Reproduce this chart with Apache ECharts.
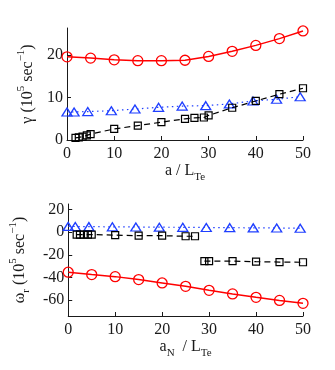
<!DOCTYPE html>
<html>
<head>
<meta charset="utf-8">
<script src="https://cdn.jsdelivr.net/npm/echarts@6/dist/echarts.min.js"></script>
<style>
  html, body { margin: 0; padding: 0; background: #fff; }
  #main { width: 335px; height: 370px; }
</style>
</head>
<body>
<div id="main"></div>
<script>
// growth rate (top panel)
var redX = [0, 5, 10, 15, 20, 25, 30, 35, 40, 45, 50];
var redGamma = [19.6, 19.3, 18.9, 18.7, 18.7, 18.8, 19.7, 20.9, 22.3, 23.9, 25.7];
var blueX = [0, 1.5, 4.4, 9.4, 14.4, 19.4, 24.4, 29.4, 34.4, 39.4, 44.4, 49.4];
var blueGamma = [6.6, 6.6, 6.7, 6.9, 7.3, 7.7, 8.0, 8.1, 8.5, 9.2, 9.6, 10.2];
var blackX = [1.8, 2.5, 3.3, 4.2, 5, 10, 15, 20, 25, 27, 29, 30, 35, 40, 45, 50];
var blackGamma = [0.5, 0.6, 0.8, 1.1, 1.4, 2.6, 3.4, 4.2, 5.0, 5.2, 5.3, 5.8, 7.6, 9.2, 10.8, 12.2];

// real frequency (bottom panel), null breaks the black line
var redOmega = [-35.3, -37.4, -39.2, -41.8, -44.8, -47.8, -51.3, -54.5, -57.5, -60.2, -62.8];
var blueOmega = [5.2, 5.1, 5.0, 4.8, 4.7, 4.5, 4.4, 4.2, 4.1, 3.9, 3.8, 3.6];
var blackOmega = [-2.0, -2.0, -2.0, -2.0, -2.0, -2.5, -3.0, -3.0, -3.5, -3.5, null, null, null, null, null, null];
var blackOmega2 = [null, null, null, null, null, null, null, null, null, null, -25.5, -25.5, -25.5, -26.0, -26.3, -26.5];

var xTicks = [0, 10, 20, 30, 40, 50];
var gammaTicks = [0, 10, 20];
var omegaTicks = [-60, -40, -20, 0, 20];

function pairs(xs, ys) {
    var out = [];
    for (var i = 0; i < xs.length; i++) {
        out.push([xs[i], ys[i] === null ? '-' : ys[i]]);
    }
    return out;
}

var FONT = 'Liberation Serif';
var TXT = '#1a1a1a';

var richName = {
    t: { fontFamily: FONT, fontSize: 16, color: TXT, lineHeight: 24, verticalAlign: 'middle' },
    sup: { fontFamily: FONT, fontSize: 11, color: TXT, lineHeight: 12, verticalAlign: 'top' },
    sub: { fontFamily: FONT, fontSize: 11, color: TXT, lineHeight: 12, verticalAlign: 'bottom' }
};

function xAxisOf(gridIndex, name) {
    return {
        type: 'value', gridIndex: gridIndex, min: 0, max: 50,
        name: name, nameLocation: 'middle', nameGap: 19,
        nameTextStyle: { rich: richName },
        axisLine: { onZero: false, lineStyle: { color: TXT, width: 1 } },
        axisTick: { inside: true, length: 4, customValues: xTicks, lineStyle: { color: TXT } },
        axisLabel: { customValues: xTicks, fontFamily: FONT, fontSize: 16, color: TXT, margin: 6 },
        splitLine: { show: false }
    };
}

function yAxisOf(gridIndex, min, max, ticks, name, gap) {
    return {
        type: 'value', gridIndex: gridIndex, min: min, max: max,
        name: name, nameLocation: 'middle', nameGap: gap,
        nameTextStyle: { rich: richName },
        axisLine: { show: true, onZero: false, lineStyle: { color: TXT, width: 1 } },
        axisTick: { show: true, inside: true, length: 4, customValues: ticks, lineStyle: { color: TXT } },
        axisLabel: { customValues: ticks, fontFamily: FONT, fontSize: 16, color: TXT, margin: 4 },
        splitLine: { show: false }
    };
}

function redSeries(idx, ys) {
    return {
        type: 'line', xAxisIndex: idx, yAxisIndex: idx, data: pairs(redX, ys),
        symbol: 'circle', symbolSize: 10,
        itemStyle: { color: 'rgba(0,0,0,0)', borderColor: '#ff0000', borderWidth: 1.3 },
        lineStyle: { color: '#ff0000', width: 1.5 }, z: 3
    };
}

function blueSeries(idx, ys) {
    return {
        type: 'line', xAxisIndex: idx, yAxisIndex: idx, data: pairs(blueX, ys),
        symbol: 'triangle', symbolSize: [10, 8],
        itemStyle: { color: 'rgba(0,0,0,0)', borderColor: '#1f3fff', borderWidth: 1.3 },
        lineStyle: { color: '#1f3fff', width: 1.2, type: [1.5, 3.5] }, z: 2
    };
}

function blackSeries(idx, ys) {
    return {
        type: 'line', xAxisIndex: idx, yAxisIndex: idx, data: pairs(blackX, ys),
        symbol: 'rect', symbolSize: 7, connectNulls: false,
        itemStyle: { color: 'rgba(0,0,0,0)', borderColor: '#000', borderWidth: 1.2 },
        lineStyle: { color: '#000', width: 1.2, type: [6, 4] }, z: 4
    };
}

var chart = echarts.init(document.getElementById('main'), null, { renderer: 'canvas' });
chart.setOption({
    animation: false,
    backgroundColor: '#fff',
    grid: [
        { left: 67, right: 32, top: 28, height: 112 },
        { left: 67, right: 32, top: 204, height: 112 }
    ],
    xAxis: [
        xAxisOf(0, '{t|a / L}{sub|Te}'),
        xAxisOf(1, '{t|a}{sub|N}{t|  / L}{sub|Te}')
    ],
    yAxis: [
        yAxisOf(0, 0, 26.4, gammaTicks, '{t|γ (10}{sup|5}{t| sec}{sup|−1}{t|)}', 21),
        yAxisOf(1, -74, 25, omegaTicks, '{t|ω}{sub|r}{t| (10}{sup|5}{t| sec}{sup|−1}{t|)}', 27)
    ],
    series: [
        redSeries(0, redGamma),
        blueSeries(0, blueGamma),
        blackSeries(0, blackGamma),
        redSeries(1, redOmega),
        blueSeries(1, blueOmega),
        blackSeries(1, blackOmega),
        blackSeries(1, blackOmega2)
    ]
});
</script>
</body>
</html>
